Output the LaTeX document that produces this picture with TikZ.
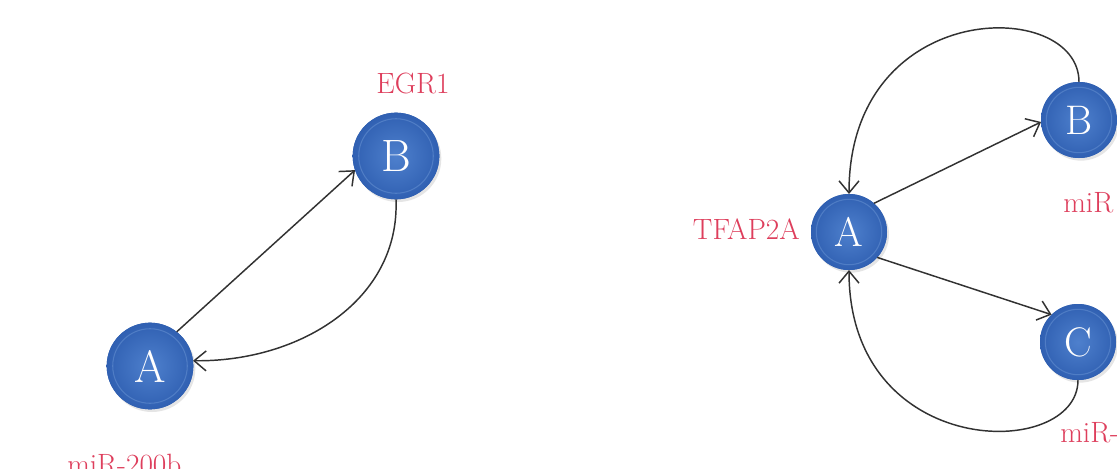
\documentclass[tikz,border=0pt]{standalone}
\usetikzlibrary{arrows.meta,shadows}
\definecolor{lbl}{RGB}{222,62,92}
\definecolor{edge}{RGB}{50,50,50}
\definecolor{ballin}{RGB}{78,128,205}
\definecolor{ballout}{RGB}{48,96,178}
\definecolor{ballrim}{RGB}{130,170,225}
\tikzset{
  ball/.style={circle, outer sep=0pt, inner sep=0pt, fill=ballout, text=white,
    drop shadow={opacity=0.2, shadow xshift=1.5pt, shadow yshift=-2pt},
    path picture={
      \shade[inner color=ballin, outer color=ballout]
        (path picture bounding box.center) circle[radius=0.5*\pgfkeysvalueof{/pgf/minimum width}];
      \draw[ballrim, line width=0.8pt, opacity=0.35]
        (path picture bounding box.center) circle[radius=0.43*\pgfkeysvalueof{/pgf/minimum width}];}},
  bigball/.style={ball, minimum size=65pt, font=\fontsize{34}{36}\selectfont},
  smallball/.style={ball, minimum size=57pt, font=\fontsize{31}{33}\selectfont},
  genelabel/.style={text=lbl, inner sep=0pt, font=\fontsize{22}{25}\selectfont},
  link/.style={draw=edge, line width=1.1pt, -{Straight Barb[length=9pt,width=15pt,line width=1.1pt]}}
}
\begin{document}
\begin{tikzpicture}[x=0.75pt,y=-0.75pt]
\useasboundingbox (0,0) rectangle (1117,468);
\clip (0,0) rectangle (1117,468);
\fill[white] (0,0) rectangle (1117,468);
% left motif
\node[bigball] (LA) at (150,366) {A};
\node[bigball] (LB) at (396,156) {B};
\node[genelabel, anchor=base] (LBl) at (413,93) {EGR1};
\node[genelabel, anchor=base west] (LAl) at (67,474) {miR-200b};
\draw[link] (LA.52) -- (LB.199);
\draw[link] (LB.-90) .. controls (400,300) and (300,362) .. (LA.7);
% right motif
\node[smallball] (RA) at (849,232) {A};
\node[smallball] (RB) at (1079,120) {B};
\node[smallball] (RC) at (1078,342) {C};
\node[genelabel, anchor=base east] (RAl) at (800,239) {TFAP2A};
\node[genelabel, anchor=base west] (RBl) at (1063,212) {miR};
\node[genelabel, anchor=base west] (RCl) at (1060,442) {miR-};
\draw[link] (RA.49) -- (RB.183);
\draw[link] (RA.-42) -- (RC.134);
\draw[link] (RB.90) .. controls (1079,-3) and (849,-3) .. (RA.90);
\draw[link] (RC.-90) .. controls (1078,461) and (849,461) .. (RA.-90);
\end{tikzpicture}
\end{document}
